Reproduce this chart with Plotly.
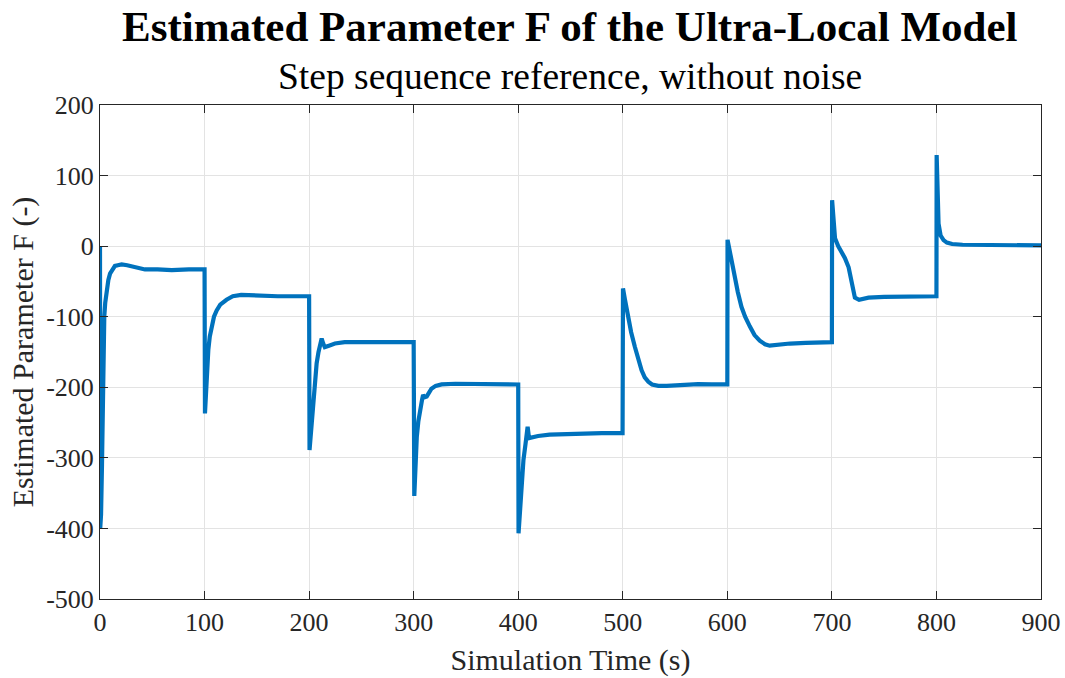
import plotly.graph_objects as go

# ---- data (time in s, estimated F) ----
t_seg0 = [0, 0.2, 1.0, 1.9, 2.6, 3.2, 4.1, 5.0, 6.4, 8.0, 9.6, 12, 14.3, 17, 20.7, 26, 35, 43, 55, 68.6, 85, 99.8]
f_seg0 = [0, -400, -380, -310, -199, -143, -100, -80, -62, -48, -39, -32, -28, -27, -26, -27, -30, -33, -33, -34, -33, -33]

t_seg1 = [100, 100.4, 101.5, 103.6, 105, 106.8, 109, 111.6, 115, 121, 127, 135, 150, 170, 199.8]
f_seg1 = [-33, -237, -200, -147, -128, -114, -100, -91, -83, -76, -71, -69, -70, -71, -71]

t_seg2 = [200, 200.4, 202, 204, 206, 207.2, 209, 211, 212, 213.5, 215, 219, 224.7, 234, 250, 275, 299.8]
f_seg2 = [-71, -289, -260, -223, -185, -166, -150, -135, -131, -138, -143, -141, -138, -136, -136, -136, -136]

t_seg3 = [300, 300.6, 302, 303, 304.5, 306, 308, 309, 310.5, 312.5, 317, 321, 326.7, 340, 370, 399.8]
f_seg3 = [-136, -354, -300, -270, -248, -232, -218, -211, -214, -213, -202, -198, -196, -195, -195, -196]

t_seg4 = [400, 400.3, 402, 405, 407, 409, 410.3, 413, 419, 430, 445, 464, 480, 499.8]
f_seg4 = [-196, -407, -360, -303, -280, -256, -272, -271, -269, -267, -266, -266, -265, -265]

t_seg5 = [500, 500.2, 502, 505, 508, 511.6, 515, 518, 521, 524.4, 528, 534, 542, 550, 560, 572, 585, 599.8]
f_seg5 = [-265, -60, -75, -100, -122, -143, -162, -176, -186, -192, -196, -198, -198, -197, -196, -195.5, -196, -196]

t_seg6 = [600, 600.2, 603.7, 607, 610, 613.5, 617, 621.6, 626, 631, 636, 640.5, 645, 650, 660, 675, 699.8]
f_seg6 = [-196, 9, -20, -44, -65, -86, -100, -114, -126, -134, -139, -141, -140, -139, -138, -137, -136]

t_seg7 = [700, 700.2, 701.5, 703, 706, 709, 712.5, 716, 719, 722, 726, 735, 750, 775, 799.8]
f_seg7 = [-136, 65, 30, 11, 0, -8, -17, -30, -50, -73, -76, -73, -72, -71, -71]

t_seg8 = [800, 800.2, 801, 802, 804, 806.8, 810, 815, 825, 850, 875, 900]
f_seg8 = [-71, 129, 80, 32, 15, 8.5, 5, 3, 2, 1.5, 1.5, 1]

x_ticks = [0, 100, 200, 300, 400, 500, 600, 700, 800, 900]
y_ticks = [200, 100, 0, -100, -200, -300, -400, -500]

t_all = t_seg0 + t_seg1 + t_seg2 + t_seg3 + t_seg4 + t_seg5 + t_seg6 + t_seg7 + t_seg8
f_all = f_seg0 + f_seg1 + f_seg2 + f_seg3 + f_seg4 + f_seg5 + f_seg6 + f_seg7 + f_seg8

FONT = "Liberation Serif, Times New Roman, serif"
AXC = "#262626"
W, H = 1065, 678
ML, MR, MT, MB = 100, 24, 105, 79

fig = go.Figure()
fig.add_trace(go.Scatter(x=t_all, y=f_all, mode="lines",
                         line=dict(color="#0072BD", width=4.2),
                         showlegend=False, hoverinfo="skip"))

axis_common = dict(showgrid=True, gridcolor="#e3e3e3", gridwidth=1,
                   showline=True, linecolor=AXC, linewidth=1, mirror="ticks",
                   ticks="inside", ticklen=8, tickcolor=AXC, zeroline=False,
                   automargin=False,
                   tickfont=dict(size=26, family=FONT, color=AXC))

fig.update_layout(
    width=W, height=H,
    margin=dict(l=ML, r=MR, t=MT, b=MB),
    paper_bgcolor="white", plot_bgcolor="white",
    font=dict(family=FONT, color=AXC, size=26),
    xaxis=dict(range=[0, 900], tickvals=x_ticks, ticktext=[str(v) for v in x_ticks],
               title=dict(text="Simulation Time (s)", font=dict(size=30, family=FONT, color=AXC), standoff=12),
               **axis_common),
    yaxis=dict(range=[-500, 200], tickvals=y_ticks, ticktext=[str(v) for v in y_ticks],
               title=dict(text="Estimated Parameter F (-)", font=dict(size=30, family=FONT, color=AXC), standoff=3),
               **axis_common),
)

plot_w = W - ML - MR
plot_h = H - MT - MB
def xpaper(px):
    return (px - ML) / plot_w
def ypaper(py):
    return (H - MB - py) / plot_h

fig.add_annotation(text="<b>Estimated Parameter F of the Ultra-Local Model</b>",
                   x=xpaper(570), y=ypaper(27), xref="paper", yref="paper",
                   showarrow=False, xanchor="center", yanchor="middle",
                   font=dict(size=43, family=FONT, color="black"))
fig.add_annotation(text="Step sequence reference, without noise",
                   x=xpaper(570), y=ypaper(77), xref="paper", yref="paper",
                   showarrow=False, xanchor="center", yanchor="middle",
                   font=dict(size=37.5, family=FONT, color="black"))

fig.write_html("out.html")
